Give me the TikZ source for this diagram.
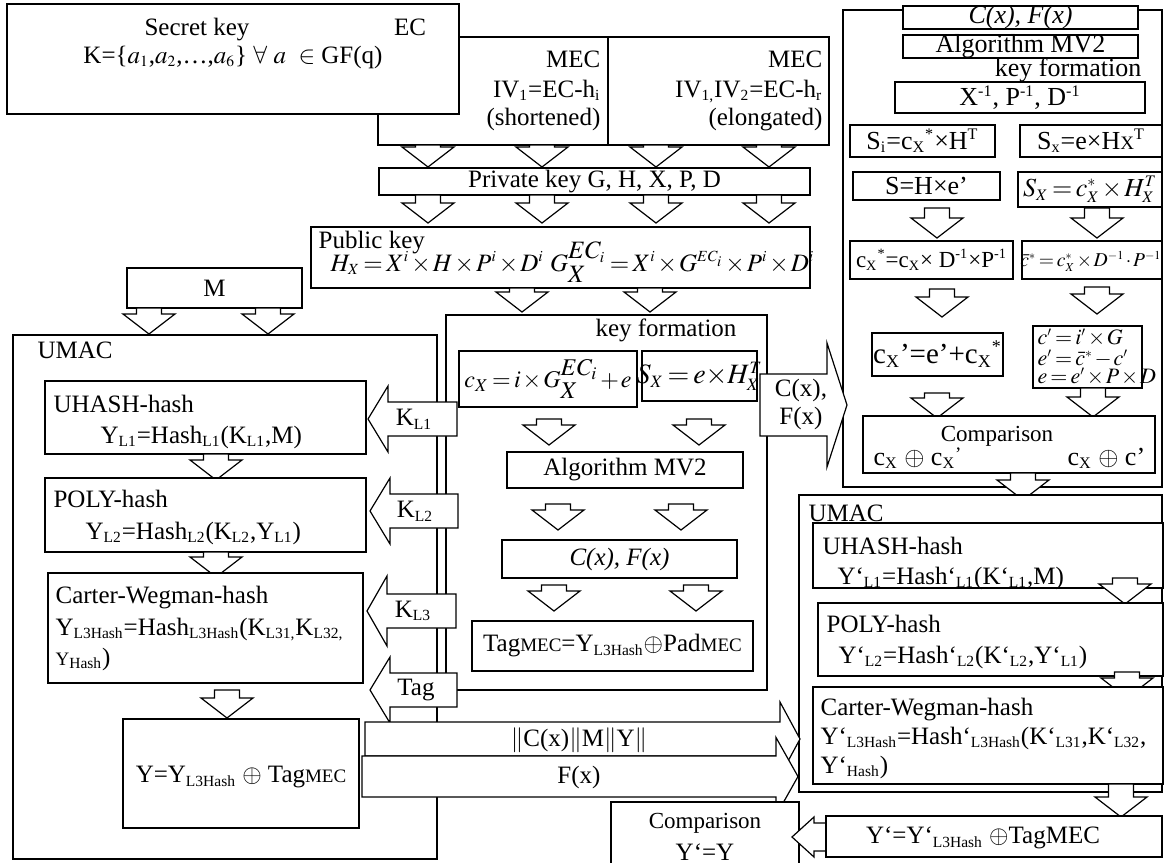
\documentclass[tikz,border=0pt]{standalone}
\usepackage{mathptmx}
\usepackage[no-math]{fontspec}
\setmainfont{Liberation Serif}
\usetikzlibrary{fit}
\renewcommand{\defaultscriptratio}{.62}
\medmuskip=1.5mu plus 1mu minus 1mu
\thickmuskip=2.5mu plus 2mu

\tikzset{
  box/.style={draw, fill=white, inner sep=0pt},
  blk/.style={draw, fill=white},
  lbl/.style={inner sep=0pt, align=center},
  lft/.style={inner sep=0pt, anchor=base west},
}
% block arrows: down (x, top y, tip y), left and right (ends, y, half widths)
\newcommand{\dnarrow}[3]{%
  \draw[blk] ({#1-12.5},#2) -- ({#1-12.5},{#3-20}) -- ({#1-26},{#3-20}) -- (#1,#3)
    -- ({#1+26},{#3-20}) -- ({#1+12.5},{#3-20}) -- ({#1+12.5},#2) -- cycle;}
\newcommand{\lfarrow}[6]{%
  \draw[blk] (#4,{#2-#5}) -- (#3,{#2-#5}) -- (#3,{#2-#6}) -- (#1,#2)
    -- (#3,{#2+#6}) -- (#3,{#2+#5}) -- (#4,{#2+#5}) -- cycle;}
\newcommand{\rtarrow}[6]{%
  \draw[blk] (#1,{#2-#5}) -- (#3,{#2-#5}) -- (#3,{#2-#6}) -- (#4,#2)
    -- (#3,{#2+#6}) -- (#3,{#2+#5}) -- (#1,{#2+#5}) -- cycle;}
\newcommand{\sm}[1]{{\fontsize{9.5}{11}\selectfont #1}}
\newcommand{\bq}{\symbol{96}}

\begin{document}
\begin{tikzpicture}[x=0.5pt, y=-0.5pt, line width=0.6pt, font=\fontsize{12.5}{14}\selectfont]
        \useasboundingbox (0,0) rectangle (1164,863);

        % Secret key and curves
        \node[box, fit={(378,37) (608,145)}] (mecl) {};
        \node[box, fit={(608,37) (829,145)}] (mecr) {};
        \node[box, fit={(7,4) (459,114)}] (secret) {};
        \node[lbl] (seclab) at (197,30) {Secret key};
        \node[lbl] (kset) at (233,57) {K=\{$a_1$,$a_2$,\ldots,$a_6$\} $\forall$ $a$~ $\in$ GF(q)};
        \node[lbl] (eclab) at (410,27) {EC};
        \node[lft, anchor=base east] (mecla) at (601,67) {MEC};
        \node[lft, anchor=base east] (meclb) at (601,97) {IV\textsubscript{1}=EC-h\textsubscript{i}};
        \node[lft, anchor=base east] (meclc) at (601,125) {(shortened)};
        \node[lft, anchor=base east] (mecra) at (823,67) {MEC};
        \node[lft, anchor=base east] (mecrb) at (823,97) {IV\textsubscript{1,}IV\textsubscript{2}=EC-h\textsubscript{r}};
        \node[lft, anchor=base east] (mecrc) at (823,125) {(elongated)};

        % Private and public key
        \foreach \x in {428,542,656,769} {\dnarrow{\x}{145}{167}}
        \node[box, fit={(379,168) (810,195)}] (priv) {};
        \node[lbl] (privlab) at (priv) {Private key G, H, X, P, D};
        \foreach \x in {428,542,656,769} {\dnarrow{\x}{195}{223}}
        \node[box, fit={(311,227) (810,288)}] (pub) {};
        \node[lft] (publab) at (318,248) {Public key};
        \node[lft] (pubeq) at (330,271) {$H_X = X^i\times H\times P^i\times D^i$\ $G^{\textstyle EC_i}_{\textstyle X} = X^i\times G^{EC_i}\times P^i\times D^i$};
        \dnarrow{522}{288}{312}
        \dnarrow{650}{288}{312}

        % Receiver side: decoding
        \node[box, fit={(843,10) (1162,487)}] (dec) {};
        \begin{scope}[font=\fontsize{13}{15}\selectfont]
        \node[box, fit={(903,6) (1138,29)}] (dcf) {};
        \node[lbl] (dcflab) at (dcf) {\itshape C(x), F(x)};
        \node[box, fit={(903,35) (1138,58)}] (dmv) {};
        \node[lbl] (dmvlab) at (dmv) {Algorithm MV2};
        \node[lft, anchor=base east] (dkf) at (1142,76) {key formation};
        \node[box, fit={(895,82) (1145,113)}] (dinv) {};
        \node[lbl] (dinvlab) at (dinv) {X\textsuperscript{-1}, P\textsuperscript{-1}, D\textsuperscript{-1}};
        \node[box, fit={(850,125) (995,157)}] (dsi) {};
        \node[lbl] (dsilab) at (dsi) {S\textsubscript{i}=c\textsubscript{X}\textsuperscript{*}×H\textsuperscript{T}};
        \node[box, fit={(1020,125) (1162,157)}] (dsx) {};
        \node[lbl] (dsxlab) at (dsx) {S\textsubscript{x}=e×H{\sm{X}}\textsuperscript{T}};
        \node[box, fit={(853,172) (1000,200)}] (ds) {};
        \node[lbl] (dslab) at (ds) {S=H×e’};
        \node[box, fit={(1018,172) (1162,207)}] (dsxx) {};
        \node[lbl] (dsxxlab) at (dsxx) {$S_X = c_X^{*}\times H_X^{T}$};
        \dnarrow{937}{208}{238}
        \dnarrow{1097}{208}{238}
        \node[box, fit={(850,241) (1013,279)}] (dcs) {};
        \node[lbl, font=\fontsize{11.5}{13}\selectfont] (dcslab) at (dcs) {c\textsubscript{X}\textsuperscript{*}=c\textsubscript{X}× D\textsuperscript{-1}×P\textsuperscript{-1}};
        \node[box, fit={(1022,241) (1162,279)}] (dcb) {};
        \node[lbl, font=\fontsize{9.8}{11}\selectfont] (dcblab) at (1091,261) {$\bar{c}^{*} = c_X^{*}\times D^{-1}\cdot P^{-1}$};
        \dnarrow{942}{289}{317}
        \dnarrow{1097}{287}{314}
        \node[box, fit={(872,333) (1003,376)}] (dcp) {};
        \node[lbl, font=\fontsize{14.5}{16}\selectfont] (dcplab) at (dcp) {c\textsubscript{X}’=e’+c\textsubscript{X}\textsuperscript{*}};
        \node[box, fit={(1033,326) (1142,388)}] (dce) {};
        \begin{scope}[font=\fontsize{11}{12}\selectfont]
        \node[lft] (dcea) at (1037,344) {$c' = i'\times G$};
        \node[lft] (dceb) at (1037,365) {$e' = \bar{c}^{*} - c'$};
        \node[lft] (dcec) at (1037,383) {$e = e'\times P\times D$};
        \end{scope}
        \dnarrow{937}{393}{418}
        \dnarrow{1093}{388}{417}
        \node[box, fit={(863,416) (1155,473)}] (dcmp) {};
        \node[lbl, font=\fontsize{11.5}{13}\selectfont] (dcmplab) at (997,436) {Comparison};
        \node[lft] (dcmpa) at (873,465) {c\textsubscript{X} $\oplus$ c\textsubscript{X}\raisebox{0.35ex}{\sm{’}}};
        \node[lft] (dcmpb) at (1067,465) {c\textsubscript{X} $\oplus$ c’};
        \end{scope}
        \dnarrow{1023}{473}{500}

        % Sender UMAC and key formation
        \node[box, fit={(13,335) (437,859)}] (umac) {};
        \node[box, fit={(446,315) (767,690)}] (keyf) {};
        \node[box, fit={(127,268) (302,308)}] (msg) {};
        \node[lbl] (msglab) at (msg) {M};
        \dnarrow{149}{308}{334}
        \dnarrow{268}{308}{334}
        \node[lft] (umaclab) at (37,358) {UMAC};

        \node[box, fit={(45,381) (366,454)}] (uh) {};
        \node[lft] (uhlab) at (53,412) {UHASH-hash};
        \node[lft] (uheq) at (100,443) {Y\textsubscript{L1}=Hash\textsubscript{L1}(K\textsubscript{L1},M)};
        \dnarrow{216}{454}{480}
        \node[box, fit={(45,478) (366,552)}] (po) {};
        \node[lft] (polab) at (53,507) {POLY-hash};
        \node[lft] (poeq) at (85,539) {Y\textsubscript{L2}=Hash\textsubscript{L2}(K\textsubscript{L2},Y\textsubscript{L1})};
        \dnarrow{216}{552}{577}
        \node[box, fit={(48,573) (363,683)}] (cw) {};
        \node[lft] (cwlab) at (55,603) {Carter-Wegman-hash};
        \node[lft] (cweq) at (55,635) {Y\textsubscript{L3Hash}=Hash\textsubscript{L3Hash}(K\textsubscript{L31,}K\textsubscript{L32,}};
        \node[lft] (cweqb) at (55,665) {\sm{Y}\textsubscript{Hash})};
        \dnarrow{227}{690}{718}
        \node[box, fit={(123,719) (359,828)}] (yb) {};
        \node[lbl] (yblab) at (241,777) {Y=Y\textsubscript{L3Hash} $\oplus$ Tag\sm{MEC}};

        \node[lbl] (kflab) at (666,330) {key formation};
        \node[box, fit={(459,351) (637,407)}] (kcx) {};
        \node[lbl, font=\fontsize{12}{14}\selectfont] (kcxlab) at (kcx) {$c_X = i\times G^{\textstyle EC_i}_{\textstyle X} + e$};
        \node[box, fit={(642,351) (757,401)}] (ksx) {};
        \node[lbl, font=\fontsize{14}{16}\selectfont] (ksxlab) at (ksx) {$S_X = e{\times}H_X^T$};
        \dnarrow{549}{419}{445}
        \dnarrow{699}{419}{445}
        \node[box, fit={(507,452) (743,488)}] (kmv) {};
        \node[lbl] (kmvlab) at (kmv) {Algorithm MV2};
        \dnarrow{558}{504}{530}
        \dnarrow{681}{504}{530}
        \node[box, fit={(502,540) (737,578)}] (kcf) {};
        \node[lbl] (kcflab) at (kcf) {\itshape C(x), F(x)};
        \dnarrow{554}{585}{611}
        \dnarrow{696}{585}{611}
        \node[box, fit={(472,621) (753,671)}] (ktag) {};
        \node[lbl] (ktaglab) at (ktag) {Tag\sm{MEC}=Y\textsubscript{L3Hash}$\oplus$Pad\sm{MEC}};

        % Keys passed to UMAC
        \lfarrow{368}{419}{388}{457}{17}{33}
        \node[lbl] (kl1) at (414,419) {K\textsubscript{L1}};
        \lfarrow{370}{511}{390}{458}{17}{33}
        \node[lbl] (kl2) at (415,511) {K\textsubscript{L2}};
        \lfarrow{367}{611}{387}{456}{17}{35}
        \node[lbl] (kl3) at (413,611) {K\textsubscript{L3}};
        \lfarrow{370}{690}{390}{457}{17}{33}
        \node[lbl] (ktg) at (416,690) {Tag};

        % Transfer to receiver
        \rtarrow{760}{405}{827}{847}{31}{62}
        \node[lbl] (cfx) at (801,404) {C(x),\\F(x)};

        % Receiver UMAC
        \node[box, fit={(799,495) (1162,792)}] (rumac) {};
        \node[lft] (rumaclab) at (808,521) {UMAC};
        \node[box, fit={(813,523) (1163,588)}] (ruh) {};
        \node[lft] (ruhlab) at (822,554) {UHASH-hash};
        \node[lft] (ruheq) at (837,584) {Y\bq\textsubscript{L1}=Hash\bq\textsubscript{L1}(K\bq\textsubscript{L1},M)};
        \dnarrow{1125}{578}{604}
        \node[box, fit={(818,603) (1163,676)}] (rpo) {};
        \node[lft] (rpolab) at (826,632) {POLY-hash};
        \node[lft] (rpoeq) at (838,663) {Y\bq\textsubscript{L2}=Hash\bq\textsubscript{L2}(K\bq\textsubscript{L2},Y\bq\textsubscript{L1})};
        \dnarrow{1127}{672}{698}
        \node[box, fit={(813,687) (1163,784)}] (rcw) {};
        \node[lft] (rcwlab) at (820,715) {Carter-Wegman-hash};
        \node[lft] (rcweq) at (820,744) {Y\bq\textsubscript{L3Hash}=Hash\bq\textsubscript{L3Hash}(K\bq\textsubscript{L31},K\bq\textsubscript{L32},};
        \node[lft] (rcweqb) at (820,773) {Y\bq\textsubscript{Hash})};
        \dnarrow{1121}{784}{817}

        % Message, tag and F(x) sent
        \rtarrow{365}{739}{780}{800}{17}{37}
        \node[lbl] (msent) at (579,740) {$\|$C(x)$\|$M$\|$Y$\|$};
        \rtarrow{362}{776.5}{776}{798}{20.5}{39}
        \node[lbl] (fsent) at (579,777) {F(x)};

        % Final comparison
        \node[box, fit={(611,802) (799,875)}] (fcmp) {};
        \node[lbl, font=\fontsize{11.5}{13}\selectfont] (fcmplab) at (705,823) {Comparison};
        \node[lbl] (fcmpeq) at (705,852) {Y\bq=Y};
        \lfarrow{792}{837}{814}{826}{14}{20}
        \node[box, fit={(826,816) (1162,857)}] (ry) {};
        \node[lbl] (rylab) at (983,838) {Y\bq=Y\bq\textsubscript{L3Hash} $\oplus$TagMEC};
\end{tikzpicture}
\end{document}
